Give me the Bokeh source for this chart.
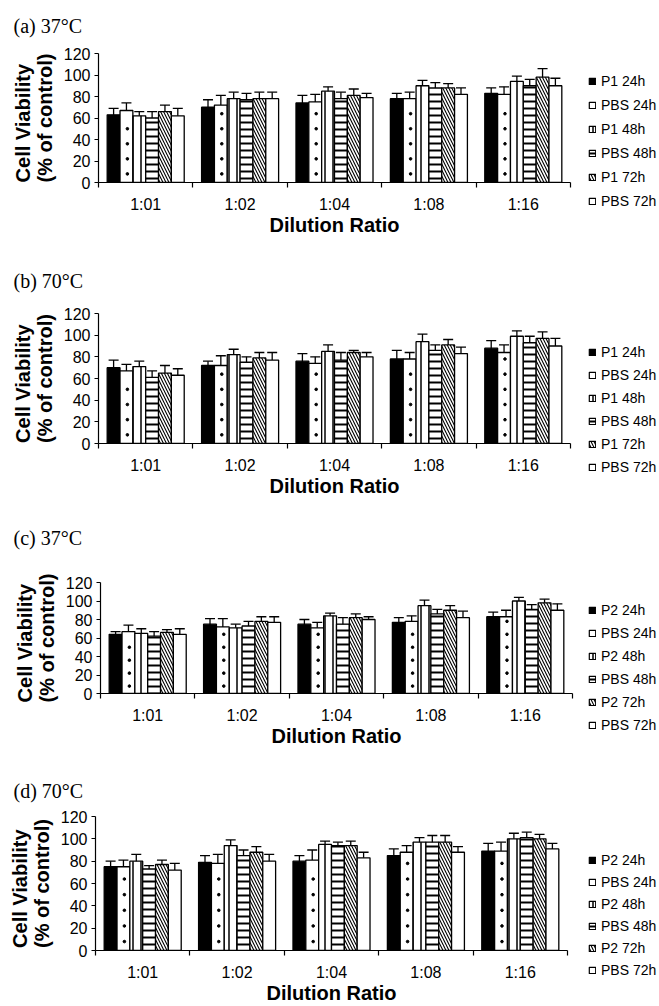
from bokeh.plotting import figure
from bokeh.models import (ColumnDataSource, Range1d, FixedTicker, Whisker, TeeHead,
                          Label, Legend, LegendItem, Title)
from bokeh.layouts import column, row
from bokeh.embed import file_html
from bokeh.resources import INLINE

# ---------------- data ----------------
categories = ["1:01", "1:02", "1:04", "1:08", "1:16"]
y_ticks = [0, 20, 40, 60, 80, 100, 120]
panel_titles = ["(a) 37°C", "(b) 70°C", "(c) 37°C", "(d) 70°C"]
series_p1 = ["P1 24h", "PBS 24h", "P1 48h", "PBS 48h", "P1 72h", "PBS 72h"]
series_p2 = ["P2 24h", "PBS 24h", "P2 48h", "PBS 48h", "P2 72h", "PBS 72h"]
y_title = "Cell Viability\n(% of control)"
x_title = "Dilution Ratio"

# means (rows = series, cols = categories)
a_mean = [[63, 70, 74, 78, 83],
          [67, 72, 75, 78, 82],
          [62, 78, 85, 90, 94],
          [60, 77, 78, 88, 90],
          [66, 78, 81, 88, 98],
          [62, 78, 79, 82, 90]]
a_err = [[6, 7, 7, 5, 5],
         [7, 9, 7, 6, 7],
         [4, 6, 4, 5, 5],
         [6, 6, 6, 5, 6],
         [6, 6, 6, 4, 8],
         [7, 6, 4, 6, 7]]

b_mean = [[70, 72, 76, 78, 88],
          [67, 72, 74, 78, 84],
          [71, 82, 85, 94, 99],
          [61, 75, 77, 86, 93],
          [65, 79, 84, 91, 97],
          [63, 77, 80, 83, 90]]
b_err = [[7, 4, 7, 8, 7],
         [6, 9, 6, 6, 7],
         [5, 5, 6, 7, 5],
         [6, 5, 7, 5, 6],
         [7, 5, 2, 5, 6],
         [6, 7, 4, 6, 7]]

c_mean = [[64, 75, 75, 77, 83],
          [67, 72, 71, 78, 83],
          [65, 71, 84, 95, 100],
          [62, 73, 75, 86, 91],
          [66, 78, 82, 90, 98],
          [64, 77, 80, 82, 90]]
c_err = [[3, 6, 5, 5, 5],
         [7, 9, 6, 6, 7],
         [5, 4, 3, 6, 4],
         [5, 5, 7, 5, 5],
         [3, 5, 4, 5, 4],
         [6, 6, 3, 7, 7]]

d_mean = [[75, 79, 80, 85, 89],
          [75, 78, 81, 88, 89],
          [80, 94, 95, 97, 100],
          [73, 85, 94, 97, 101],
          [77, 88, 94, 97, 100],
          [72, 80, 83, 88, 91]]
d_err = [[5, 6, 5, 6, 7],
         [6, 8, 9, 6, 8],
         [6, 5, 3, 4, 5],
         [3, 5, 3, 6, 5],
         [4, 5, 4, 6, 4],
         [6, 6, 5, 5, 5]]

# ---------------- styling ----------------
W = 659
PAGE_H = 1006
LEG_W = 79
MAIN_W = W - LEG_W
FW = 472
bar_w = 0.136
dot_step = 14          # spacing (in value units) of the dot texture of the PBS 24h bars
styles = [
    dict(fill_color="black"),
    dict(fill_color="white"),
    dict(fill_color="white", hatch_pattern="vertical_line", hatch_scale=8, hatch_weight=1.5, hatch_color="black"),
    dict(fill_color="white", hatch_pattern="horizontal_line", hatch_scale=7, hatch_weight=2, hatch_color="black"),
    dict(fill_color="white", hatch_pattern="left_diagonal_line", hatch_scale=6, hatch_weight=1.1, hatch_color="black"),
    dict(fill_color="white"),
]

panels = [
    dict(mean=a_mean, err=a_err, names=series_p1, Ht=41, title_y=16, Hm=209, FH=129, L=98,
         TB=12, leg_top=32, leg_sp=8, tick_so=8, lab_so=-2),
    dict(mean=b_mean, err=b_err, names=series_p1, Ht=51, title_y=21, Hm=204, FH=130, L=98,
         TB=12, leg_top=43, leg_sp=7, tick_so=8, lab_so=-2),
    dict(mean=c_mean, err=c_err, names=series_p2, Ht=65, title_y=33, Hm=190, FH=111, L=100,
         TB=12, leg_top=32, leg_sp=7, tick_so=8, lab_so=-2),
    # the last panel runs past the page bottom (its axis title is cut, as in the source figure)
    dict(mean=d_mean, err=d_err, names=series_p2, Ht=47, title_y=17, Hm=207, FH=134, L=95,
         TB=9, leg_top=45, leg_sp=6, tick_so=8, lab_so=-2),
]

blocks = []
for k, cfg in enumerate(panels):
    Hm, FH, L, TB = cfg["Hm"], cfg["FH"], cfg["L"], cfg["TB"]

    # ---- title strip ----
    pt = figure(width=W, height=cfg["Ht"], x_range=Range1d(0, 1), y_range=Range1d(0, 1),
                output_backend="svg", toolbar_location=None,
                x_axis_location=None, y_axis_location=None, min_border=0)
    pt.outline_line_color = None
    pt.grid.visible = False
    pt.add_layout(Label(x=13, y=cfg["title_y"], x_units="screen", y_units="screen",
                        text=panel_titles[k], text_font="Liberation Serif",
                        text_font_size="20px", text_align="left", text_baseline="middle",
                        text_color="black"))

    # ---- main chart ----
    p = figure(width=MAIN_W, height=Hm, x_range=Range1d(-0.5, len(categories) - 0.5),
               y_range=Range1d(0, 120), output_backend="svg", toolbar_location=None,
               min_border_left=L, min_border_right=MAIN_W - L - FW, min_border_top=TB,
               min_border_bottom=Hm - TB - FH)
    p.outline_line_color = None
    p.grid.visible = False

    xa = p.xaxis[0]
    xa.ticker = FixedTicker(ticks=list(range(len(categories))),
                            minor_ticks=[i - 0.5 for i in range(len(categories) + 1)])
    xa.major_label_overrides = {i: c for i, c in enumerate(categories)}
    xa.major_tick_out = 0
    xa.major_tick_in = 0
    xa.minor_tick_out = 5
    xa.minor_tick_in = 0
    xa.minor_tick_line_width = 1.2
    xa.axis_line_width = 1.2
    xa.major_label_standoff = cfg["tick_so"]
    xa.major_label_text_font = "Liberation Sans"
    xa.major_label_text_font_size = "16px"
    xa.major_label_text_color = "black"
    xa.axis_label = x_title
    xa.axis_label_standoff = cfg["lab_so"]
    xa.axis_label_text_font = "Liberation Sans"
    xa.axis_label_text_font_style = "bold"
    xa.axis_label_text_font_size = "20px"
    xa.axis_label_text_color = "black"

    ya = p.yaxis[0]
    ya.ticker = FixedTicker(ticks=y_ticks)
    ya.major_tick_out = 4
    ya.major_tick_in = 0
    ya.minor_tick_out = 0
    ya.minor_tick_in = 0
    ya.axis_line_width = 1.2
    ya.major_tick_line_width = 1.2
    ya.major_label_standoff = 4
    ya.major_label_text_font = "Liberation Sans"
    ya.major_label_text_font_size = "16px"
    ya.major_label_text_color = "black"

    p.add_layout(Title(text=y_title, align="center", text_font="Liberation Sans",
                       text_font_style="bold", text_font_size="20px",
                       text_line_height=1.0, text_color="black", standoff=9), "left")

    # ---- legend strip ----
    pl = figure(width=LEG_W, height=Hm, x_range=Range1d(0, 1), y_range=Range1d(0, 1),
                output_backend="svg", toolbar_location=None,
                x_axis_location=None, y_axis_location=None,
                min_border_left=8, min_border_top=cfg["leg_top"],
                min_border_right=0, min_border_bottom=0)
    pl.outline_line_color = None
    pl.grid.visible = False

    items = []
    for j in range(6):
        xs = [i + (j - 2.5) * bar_w for i in range(len(categories))]
        m = cfg["mean"][j]
        e = cfg["err"][j]
        src = ColumnDataSource(dict(x=xs, top=m, upper=[a + b for a, b in zip(m, e)],
                                    lower=[a - b for a, b in zip(m, e)]))
        p.vbar(x="x", top="top", bottom=0, width=bar_w, source=src,
               line_color="black", line_width=1.3, **styles[j])
        if j == 1:
            # sparse dot texture inside the PBS 24h bars
            dx, dy = [], []
            for xv, tv in zip(xs, m):
                yv = 8
                while yv < tv - 4:
                    dx.append(xv + 0.01)
                    dy.append(yv)
                    yv += dot_step
            p.scatter(x=dx, y=dy, size=2.6, marker="circle", color="black")
        p.add_layout(Whisker(base="x", upper="upper", lower="lower", source=src,
                             line_color="black", line_width=1.3,
                             upper_head=TeeHead(size=10, line_width=1.3, line_color="black"),
                             lower_head=TeeHead(size=10, line_width=1.3, line_color="black")))
        # hidden legend-swatch renderer carrying the same style
        rl = pl.vbar(x=[5], bottom=[5], top=[6], width=0.1, line_color="black",
                     line_width=1.2, **styles[j])
        rl.visible = False
        items.append(LegendItem(label=cfg["names"][j], renderers=[rl]))

    leg = Legend(items=items, location="top_left", orientation="vertical",
                 glyph_width=8, glyph_height=8, label_text_font="Liberation Sans",
                 label_text_font_size="14px", label_text_color="black",
                 label_standoff=5, label_height=16,
                 spacing=cfg["leg_sp"], padding=0, margin=0,
                 inactive_fill_alpha=0,
                 border_line_color=None, background_fill_alpha=0)
    pl.add_layout(leg)

    blocks.append(column(pt, row(p, column(pl), spacing=0), spacing=0))

layout = column(*blocks, spacing=0, width=W, height=PAGE_H, styles={"overflow": "hidden"})
open("out.html", "w").write(file_html(layout, INLINE))
